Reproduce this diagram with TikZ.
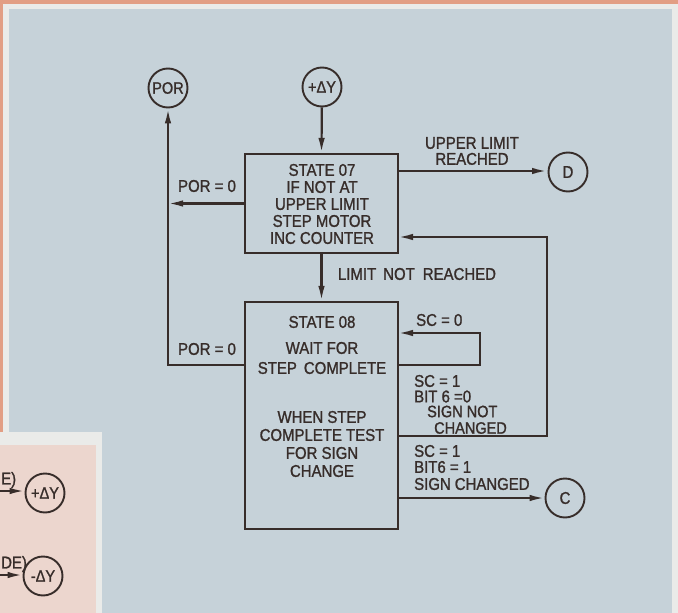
\documentclass[tikz,border=0pt]{standalone}
\usepackage{fontspec}
\setmainfont{Liberation Sans}
\newfontfamily\lettering{Liberation Sans}[FakeBold=1.2, FakeStretch=0.88]
\usetikzlibrary{arrows.meta}
\definecolor{bgblue}{RGB}{198,210,217}
\definecolor{paper}{RGB}{234,235,233}
\definecolor{salmon}{RGB}{226,158,132}
\definecolor{pinkpanel}{RGB}{236,214,206}
\definecolor{ink}{RGB}{55,45,42}
\tikzset{
  conn/.style={draw=ink, line width=2.2pt},
  arr/.style={conn, -{Latex[length=15pt,width=6.5pt]}},
  statebox/.style={draw=ink, line width=2.2pt, rectangle, inner sep=0pt},
  term/.style={draw=ink, line width=1.9pt, circle, minimum size=39pt, inner sep=0pt, text=ink, font=\lettering\fontsize{16.5}{17}\selectfont},
  txt/.style={text=ink, font=\lettering\fontsize{17}{17}\selectfont, inner sep=0pt, align=center},
  ltxt/.style={txt, anchor=west}
}
\begin{document}
\begin{tikzpicture}[x=1pt,y=-1pt]
\useasboundingbox (0,0) rectangle (678,613);
% background
\fill[paper] (0,0) rectangle (678,613);
\fill[salmon] (0,0) rectangle (678,3.5);
\fill[salmon] (0,0) rectangle (2.5,432);
\fill[bgblue] (8.5,8.5) rectangle (672,613);
\fill[paper] (0,432) rectangle (102,613);
\fill[pinkpanel] (0,445) rectangle (96,613);

% terminals
\node[term] (por) at (168,88) {POR};
\node[term] (py) at (322,87) {+ΔY};
\node[term, font=\lettering\fontsize{17}{17}\selectfont] (d) at (568,172) {D};
\node[term, font=\lettering\fontsize{17}{17}\selectfont] (c) at (565,498) {C};
\node[term] (py2) at (45,493) {+ΔY};
\node[term] (my2) at (43,576) {-ΔY};

% state boxes
\node[statebox, minimum width=153pt, minimum height=99pt] (s7) at (321.5,203.5) {};
\node[statebox, minimum width=153pt, minimum height=227pt] (s8) at (321.5,415.5) {};

% state texts
\node[txt] (t7) at (322,204) {STATE 07\\IF NOT AT\\UPPER LIMIT\\STEP MOTOR\\INC COUNTER};
\node[txt] (t8a) at (322,322) {STATE 08};
\node[txt, font=\lettering\fontsize{17}{20}\selectfont] (t8b) at (322,358) {WAIT FOR\\STEP\hspace{7pt}COMPLETE};
\node[txt, font=\lettering\fontsize{17}{18}\selectfont] (t8c) at (322,444) {WHEN STEP\\COMPLETE TEST\\FOR SIGN\\CHANGE};

% junction coordinates
\coordinate (j1) at (168,203.5);
\coordinate (s8w) at (245,365);
\coordinate (j2) at (168,365);
\coordinate (s7e1) at (398,171);
\coordinate (d1) at (547,171);
\coordinate (l1) at (398,365);
\coordinate (l2) at (480,365);
\coordinate (l3) at (480,333);
\coordinate (l4) at (398,333);
\coordinate (r1) at (398,436);
\coordinate (r2) at (547,436);
\coordinate (r3) at (547,237);
\coordinate (r4) at (398,237);
\coordinate (c1) at (398,498);
\coordinate (e1) at (0,491);
\coordinate (e2) at (0,575);

% connectors
\draw[arr] (py) -- (s7.north);
\draw[arr] (s7.west) -- (j1);
\draw[arr] (s8w) -- (j2) -- (por);
\draw[arr] (s7.south) -- (s8.north);
\draw[arr] (s7e1) -- (d1);
\draw[arr] (l1) -- (l2) -- (l3) -- (l4);
\draw[arr] (r1) -- (r2) -- (r3) -- (r4);
\draw[arr] (c1) -- (c);
\draw[arr] (e1) -- (e1 -| py2.west);
\draw[arr] (e2) -- (e2 -| my2.west);

% labels
\node[txt] (lpor1) at (207,186) {POR = 0};
\node[txt] (lpor2) at (207,349) {POR = 0};
\node[txt, font=\lettering\fontsize{17}{16}\selectfont] (lul) at (472,151) {UPPER LIMIT\\REACHED};
\node[txt] (lnr) at (417,274) {LIMIT\hspace{7pt}NOT\hspace{8pt}REACHED};
\node[ltxt] (lsc0) at (416,320) {SC = 0};
\node[ltxt] (la1) at (414,381) {SC = 1};
\node[ltxt] (la2) at (414,396.5) {BIT 6 =0};
\node[ltxt, font=\lettering\fontsize{16.5}{17}\selectfont] (la3) at (427,411.5) {SIGN NOT};
\node[ltxt, font=\lettering\fontsize{16.5}{17}\selectfont] (la4) at (434,428) {CHANGED};
\node[ltxt] (lb1) at (414,451) {SC = 1};
\node[ltxt] (lb2) at (414,467) {BIT6 = 1};
\node[ltxt] (lb3) at (414,484) {SIGN\hspace{4pt}CHANGED};
\node[txt, anchor=west] (le1) at (1,480) {E)};
\node[txt, anchor=west] (le2) at (1,564) {DE)};
\end{tikzpicture}
\end{document}
